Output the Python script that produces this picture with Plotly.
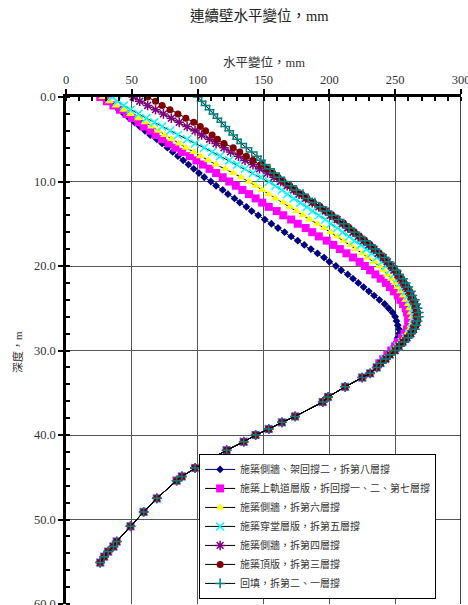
import plotly.graph_objects as go

# Depths (m) for the upper part where the stages differ
depth_upper = [0, 0.5, 1, 1.5, 2, 2.5, 3, 3.5, 4, 4.5, 5, 5.5, 6, 6.5, 7, 7.5, 8, 8.5, 9, 9.5,
               10, 10.5, 11, 11.5, 12, 12.5, 13, 13.5, 14, 14.5, 15, 15.5, 16, 16.5, 17, 17.5,
               18, 18.5, 19, 19.5, 20, 20.5, 21, 21.5, 22, 22.5, 23, 23.5, 24, 24.5, 25, 25.5,
               26, 26.5, 27, 27.5, 28, 28.5, 29, 29.5, 30, 30.5, 31, 31.5, 32]

# Shared lower part (all stages coincide)
depth_lower = [32.7, 33.2, 34.3, 35.5, 36.1, 37.8, 38.5, 39.3, 40.0, 40.8, 41.8, 42.9,
               43.9, 44.9, 45.4, 47.5, 49.1, 50.8, 52.6, 53.2, 53.8, 54.4, 55.1]
disp_lower = [231, 225, 212, 199, 195, 174, 164, 154, 144, 135, 122, 109,
              98, 88, 84, 69, 59, 49, 38.5, 36, 32, 29, 26]

s1 = [28, 32, 36, 40, 44, 48, 52, 56, 60, 64, 69, 73, 77, 81, 85, 89, 93, 97, 101, 105,
      110, 114, 119, 123, 128, 132, 137, 141, 146, 151, 156, 161, 166, 171, 176, 181,
      186, 191, 196, 200, 205, 209, 214, 218, 222, 226, 230, 234, 238, 242, 245, 248,
      250, 251, 252, 253, 253, 252, 251, 249, 247, 245, 242, 239, 236]
s2 = [26, 31, 36, 41, 46, 50, 55, 59, 64, 68, 73, 78, 83, 88, 94, 99, 104, 109, 114, 119,
      124, 129, 134, 139, 144, 149, 154, 160, 165, 171, 176, 182, 187, 192, 198, 203,
      208, 213, 218, 223, 227, 231, 235, 239, 243, 246, 249, 252, 254, 256, 258, 259,
      260, 260, 260, 259, 257, 255, 252, 250, 247, 244, 241, 238, 236]
s3 = [28, 33, 38, 44, 49, 55, 60, 65, 70, 75, 80, 86, 91, 97, 102, 108, 114, 121, 127, 133,
      139, 144, 149, 154, 159, 165, 170, 175, 180, 185, 191, 196, 201, 206, 211, 216,
      220, 225, 229, 234, 238, 241, 244, 247, 250, 252, 254, 256, 258, 260, 261, 262,
      263, 263, 262, 261, 259, 257, 254, 251, 248, 245, 242, 239, 236]
s4 = [35, 39, 44, 49, 55, 61, 67, 73, 79, 85, 92, 98, 105, 111, 117, 124, 130, 136, 142, 148,
      154, 159, 164, 168, 173, 178, 183, 187, 192, 197, 201, 206, 210, 215, 219, 224,
      228, 232, 236, 240, 243, 246, 249, 252, 254, 256, 258, 260, 261, 263, 264, 265,
      265, 265, 264, 263, 261, 258, 255, 252, 249, 246, 242, 239, 236]
s5 = [51, 56, 62, 68, 74, 80, 86, 92, 98, 103, 109, 114, 120, 125, 131, 136, 142, 147, 153, 158,
      163, 168, 173, 177, 182, 187, 192, 197, 201, 206, 210, 214, 218, 222, 226, 230,
      234, 237, 241, 244, 247, 249, 252, 254, 256, 258, 260, 262, 263, 265, 266, 266,
      267, 266, 265, 264, 262, 259, 256, 253, 250, 246, 243, 239, 236]
s6 = [62, 68, 73, 79, 85, 91, 97, 102, 106, 111, 115, 120, 127, 132, 137, 142, 148, 153, 157, 161,
      165, 170, 174, 179, 183, 188, 193, 197, 202, 206, 211, 215, 219, 223, 227, 231,
      234, 238, 241, 244, 247, 250, 252, 255, 257, 259, 261, 262, 264, 265, 266, 267,
      267, 267, 266, 264, 262, 259, 256, 253, 250, 246, 243, 239, 236]
s7 = [100, 103, 106, 109, 112, 115, 118, 121, 124, 127, 130, 133, 137, 141, 145, 148, 151, 155, 158, 162,
      166, 171, 175, 180, 184, 189, 193, 198, 202, 207, 211, 215, 219, 223, 227, 231,
      235, 238, 242, 245, 248, 251, 253, 256, 258, 260, 262, 263, 265, 266, 267, 268,
      268, 267, 266, 265, 262, 260, 257, 253, 250, 246, 243, 239, 236]

names = ["施築側牆、架回撐二，拆第八層撐",
         "施築上軌道層版，拆回撐一、二、第七層撐",
         "施築側牆，拆第六層撐",
         "施築穿堂層版，拆第五層撐",
         "施築側牆，拆第四層撐",
         "施築頂版，拆第三層撐",
         "回填，拆第二、一層撐"]
series = [s1, s2, s3, s4, s5, s6, s7]
colors = ["#000080", "#FF00FF", "#FFFF00", "#00FFFF", "#800080", "#800000", "#008080"]
symbols = ["diamond", "square", "triangle-up", "x-thin-open", "asterisk-open", "circle", "cross-thin-open"]
sizes = [6, 8, 8, 8, 8, 7, 7]
line_colors = ["#000080", "#000000", "#000000", "#000000", "#000000", "#000000", "#000000"]

depth = depth_upper + depth_lower
fig = go.Figure()
for nm, s, c, sym, sz, lc in zip(names, series, colors, symbols, sizes, line_colors):
    fig.add_trace(go.Scatter(
        x=s + disp_lower, y=depth, name=nm, mode="lines+markers",
        line=dict(color=lc, width=1),
        marker=dict(symbol=sym, size=sz, color=c,
                    line=dict(color=c, width=1.5 if "open" in sym else 0)),
    ))

serif = "Liberation Serif, Noto Sans CJK TC"
tick_font = dict(family=serif, size=12.5, color="#333333")
fig.update_layout(
    width=468, height=605,
    margin=dict(l=66, r=7, t=97, b=1),
    paper_bgcolor="white", plot_bgcolor="white",
    showlegend=True,
    legend=dict(x=0.337, y=0.01, xanchor="left", yanchor="bottom",
                bgcolor="white", bordercolor="black", borderwidth=1,
                font=dict(family="Noto Sans CJK TC", size=10, color="#333333"),
                itemwidth=30, tracegroupgap=0),
    xaxis=dict(side="top", range=[0, 300], dtick=50, tick0=0,
               showline=True, linecolor="black", linewidth=2.5,
               showgrid=True, gridcolor="#555555", gridwidth=1.2,
               ticks="outside", ticklen=5, tickwidth=2, tickcolor="black",
               minor=dict(dtick=10, ticks="inside", ticklen=4, tickwidth=1.5,
                          tickcolor="black", showgrid=False),
               tickfont=tick_font, zeroline=False, automargin=False,
               ticklabeloverflow="allow"),
    yaxis=dict(range=[60, 0], dtick=10, tick0=0, tickformat=".1f",
               showline=True, linecolor="black", linewidth=2.5,
               showgrid=True, gridcolor="#555555", gridwidth=1.2,
               ticks="outside", ticklen=5, tickwidth=2, tickcolor="black",
               minor=dict(dtick=2, ticks="inside", ticklen=4, tickwidth=1.5,
                          tickcolor="black", showgrid=False),
               tickfont=tick_font, zeroline=False, automargin=False,
               ticklabeloverflow="allow"),
    annotations=[
        dict(text="連續壁水平變位，mm", xref="paper", yref="paper",
             x=(259 - 66) / 395, y=1 + (97 - 16) / 507, showarrow=False,
             xanchor="center", yanchor="middle",
             font=dict(family=serif, size=14.5, color="#222222")),
        dict(text="水平變位，mm", xref="paper", yref="paper",
             x=(264 - 66) / 395, y=1 + (97 - 62) / 507, showarrow=False,
             xanchor="center", yanchor="middle",
             font=dict(family=serif, size=12.5, color="#333333")),
        dict(text="深度，m", xref="paper", yref="paper", textangle=-90,
             x=(17 - 66) / 395, y=1 - (352 - 97) / 507, showarrow=False,
             xanchor="center", yanchor="middle",
             font=dict(family=serif, size=11, color="#333333")),
    ],
)
fig.add_shape(type="line", xref="x", yref="paper", x0=300, x1=300, y0=0, y1=1,
              line=dict(color="black", width=1.5))

fig.write_html("out.html")
